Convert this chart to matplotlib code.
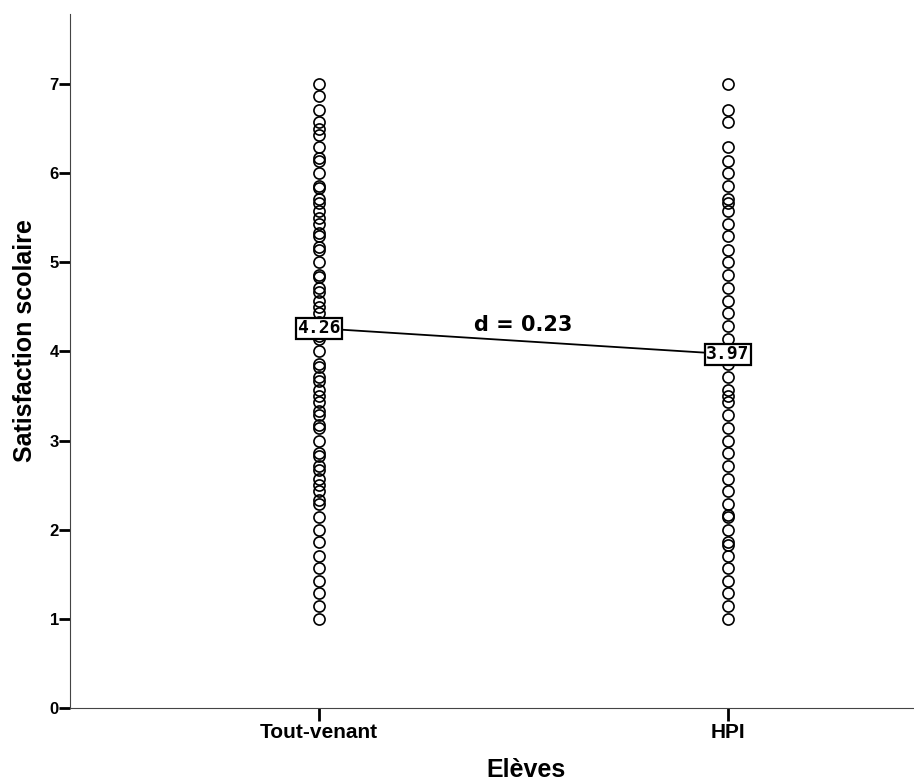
import numpy as np
import matplotlib.pyplot as plt

plt.rcParams['font.family'] = ['Liberation Sans', 'DejaVu Sans']

groups = ["Tout-venant", "HPI"]

tout_venant = [1.00, 1.14, 1.29, 1.43, 1.57, 1.71, 1.86, 2.00, 2.14, 2.29, 2.33, 2.43,
               2.50, 2.57, 2.67, 2.71, 2.83, 2.86, 3.00, 3.14, 3.17, 3.29, 3.33, 3.43,
               3.50, 3.57, 3.67, 3.71, 3.83, 3.86, 4.00, 4.14, 4.17, 4.29, 4.33, 4.43,
               4.50, 4.57, 4.67, 4.71, 4.83, 4.86, 5.00, 5.14, 5.17, 5.29, 5.33, 5.43,
               5.50, 5.57, 5.67, 5.71, 5.83, 5.86, 6.00, 6.14, 6.17, 6.29, 6.43, 6.50,
               6.57, 6.71, 6.86, 7.00]
hpi = [1.00, 1.14, 1.29, 1.43, 1.57, 1.71, 1.83, 1.86, 2.00, 2.14, 2.17, 2.29, 2.43,
       2.57, 2.71, 2.86, 3.00, 3.14, 3.29, 3.43, 3.50, 3.57, 3.71, 3.86, 4.00, 4.14,
       4.29, 4.43, 4.57, 4.71, 4.86, 5.00, 5.14, 5.29, 5.43, 5.57, 5.67, 5.71, 5.86,
       6.00, 6.14, 6.29, 6.57, 6.71, 7.00]

means = [4.26, 3.97]
d_label = "d = 0.23"

fig = plt.figure(figsize=(9.14, 7.84), dpi=100)
ax = fig.add_axes([70/914, 1 - 708/784, 1 - 70/914, (708 - 14)/784])

for i, vals in enumerate([tout_venant, hpi]):
    ax.plot([i] * len(vals), vals, 'o', ms=8, mfc='none', mec='black', mew=1.2,
            linestyle='none', zorder=2)

# ligne entre les moyennes
ax.plot([0, 1], means, color='black', lw=1.3, zorder=3)
for i, m in enumerate(means):
    ax.text(i, m, f"{m:.2f}", ha='center', va='center', fontsize=13,
            family='DejaVu Sans Mono', fontweight='bold',
            bbox=dict(boxstyle='square,pad=0.08', fc='white', ec='black', lw=1.6),
            zorder=4)

ax.text(0.499, 4.30, d_label, ha='center', va='center', fontsize=15,
        family='DejaVu Sans', fontweight='bold')

ax.set_xlim(-249/409, 1 + 186/409)
ax.set_ylim(0, (708 - 14)/89.14)
ax.set_xticks([0, 1])
ax.set_xticklabels(groups, fontsize=15, fontweight='bold')
ax.set_yticks(range(0, 8))
ax.set_yticklabels([str(v) for v in range(0, 8)], fontsize=12, fontweight='bold')
ax.tick_params(axis='y', direction='out', length=8, width=2, pad=0)
ax.tick_params(axis='x', direction='out', length=9, width=2, pad=2)

ax.spines['top'].set_visible(False)
ax.spines['right'].set_visible(False)
ax.spines['left'].set_color('#444444')
ax.spines['bottom'].set_color('#444444')

ax.set_xlabel("Elèves", fontsize=18, fontweight='bold', va='center')
ax.set_ylabel("Satisfaction scolaire", fontsize=18, fontweight='bold', va='center')
ax.xaxis.set_label_coords(0.54, (708 - 770)/694)
ax.yaxis.set_label_coords((25 - 70)/844, 0.53)

fig.savefig("out.png", dpi=100)
